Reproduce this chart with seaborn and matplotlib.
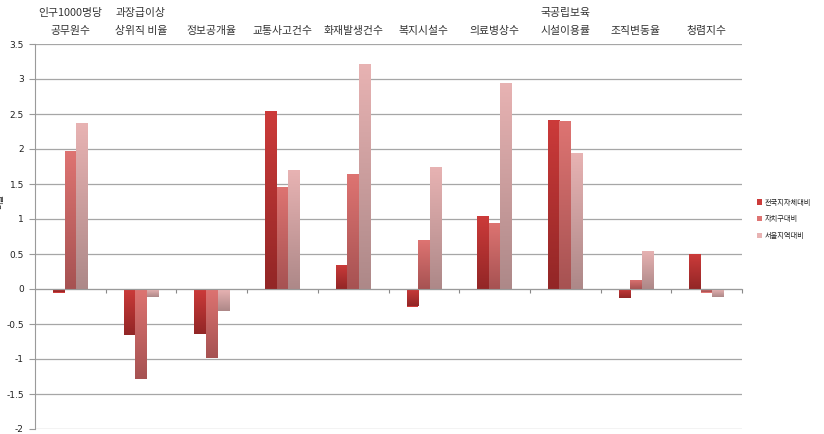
import numpy as np
import pandas as pd
import matplotlib
matplotlib.use("Agg")
import matplotlib.pyplot as plt
import seaborn as sns
from matplotlib.colors import LinearSegmentedColormap, to_rgb

categories = ["인구1000명당\n공무원수", "과장급이상\n상위직 비율", "정보공개율", "교통사고건수",
              "화재발생건수", "복지시설수", "의료병상수", "국공립보육\n시설이용률",
              "조직변동율", "청렴지수"]
series = ["전국지자체대비", "자치구대비", "서울지역대비"]
nation = [-0.05, -0.66, -0.64, 2.54, 0.35, -0.25, 1.04, 2.41, -0.13, 0.50]
district = [1.97, -1.29, -0.99, 1.46, 1.64, 0.70, 0.95, 2.40, 0.13, -0.05]
seoul = [2.37, -0.11, -0.31, 1.70, 3.22, 1.75, 2.95, 1.95, 0.55, -0.11]
yticks = [-2, -1.5, -1, -0.5, 0, 0.5, 1, 1.5, 2, 2.5, 3, 3.5]

top_colors = ["#cc3b3a", "#de7472", "#e8b3b3"]
bottom_colors = ["#922626", "#a65252", "#ad8888"]

df = pd.DataFrame({
    "category": categories * 3,
    "series": [s for s in series for _ in categories],
    "value": nation + district + seoul,
})

sns.set_style("white")
plt.rcParams['font.family'] = ['Noto Sans CJK KR', 'DejaVu Sans']

fig = plt.figure(figsize=(8.24, 4.34), dpi=100)
ax = fig.add_axes([35/824, 5/434, 707/824, 385/434])

sns.barplot(data=df, x="category", y="value", hue="series", order=categories,
            hue_order=series, palette=top_colors, width=0.49, ax=ax,
            edgecolor="none", linewidth=0, legend=True, saturation=1)

# gradient fill for each bar
for ci, cont in enumerate(ax.containers):
    cmap = LinearSegmentedColormap.from_list(
        f"g{ci}", [to_rgb(bottom_colors[ci]), to_rgb(top_colors[ci])])
    grad = np.linspace(0, 1, 256).reshape(-1, 1)
    for bar in cont:
        x0, y0 = bar.get_x(), bar.get_y()
        w, h = bar.get_width(), bar.get_height()
        ylo, yhi = min(y0, y0 + h), max(y0, y0 + h)
        im = ax.imshow(grad, cmap=cmap, aspect="auto", origin="lower",
                       extent=[x0, x0 + w, ylo, yhi], zorder=2.5)
        im.set_clip_path(bar)

ax.set_xlim(-0.5, len(categories) - 0.5)
ax.set_ylim(-2, 3.5)

# grid
ax.set_yticks(yticks)
ax.set_yticklabels([f"{v:g}" for v in yticks])
ax.yaxis.grid(True, color="#a6a6a6", linewidth=0.9)
ax.set_axisbelow(True)

# x axis: category labels above the plot, ticks at zero line
ax.set_xticks(range(len(categories)))
ax.set_xticklabels([""] * len(categories))
ax.set_xticks(np.arange(len(categories)) + 0.5, minor=True)
ax.tick_params(axis="x", which="major", top=False, bottom=False, labeltop=False,
               labelbottom=False, length=0)
ax.tick_params(axis="x", which="minor", top=False, bottom=True, length=3,
               direction="out", color="#888888", width=0.8)
for i, cat in enumerate(categories):
    ax.annotate(cat, xy=(i, 1), xycoords=ax.get_xaxis_transform(),
                xytext=(0, 6), textcoords="offset points", ha="center",
                va="bottom", fontsize=7.8, color="#333333", linespacing=1.9,
                multialignment="center", annotation_clip=False)

ax.spines["bottom"].set_position(("data", 0))
ax.spines["bottom"].set_color("#9a9a9a")
ax.spines["top"].set_visible(False)
ax.spines["right"].set_visible(False)
ax.spines["left"].set_color("#9a9a9a")
ax.tick_params(axis="y", which="major", left=True, length=4, color="#9a9a9a",
               direction="out", pad=4, labelcolor="#222222", labelsize=6.5)
for lab in ax.get_yticklabels():
    lab.set_family(['DejaVu Sans'])
ax.set_xlabel("")
ax.set_ylabel("비율", fontsize=6)
ax.yaxis.set_label_coords(-0.043, 0.59)

leg = ax.legend(loc="center left", bbox_to_anchor=(1.012, 0.545), frameon=False,
                fontsize=5.2, handlelength=0.7, handleheight=0.7, handletextpad=0.4,
                labelspacing=1.2)
for txt in leg.get_texts():
    txt.set_color("#222222")

fig.savefig("out.png", dpi=100)
